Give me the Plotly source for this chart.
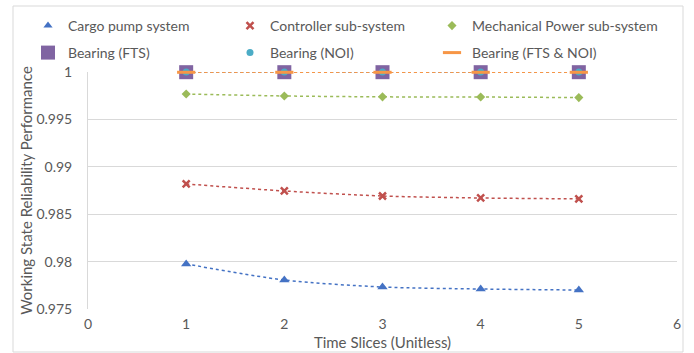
import plotly.graph_objects as go

time_slices = [1, 2, 3, 4, 5]
cargo_pump = [0.97975, 0.97806, 0.97732, 0.97711, 0.97700]
controller = [0.98819, 0.98745, 0.98692, 0.98671, 0.98662]
mechanical = [0.99768, 0.99747, 0.99738, 0.99736, 0.99730]
bearing_fts = [0.99998, 0.99998, 0.99998, 0.99998, 0.99998]
bearing_noi = [0.99999, 0.99999, 0.99999, 0.99999, 0.99999]
bearing_fts_noi = [0.99997, 0.99997, 0.99997, 0.99997, 0.99997]

y_ticks = [0.975, 0.98, 0.985, 0.99, 0.995, 1]
y_tick_labels = ["0.975", "0.98", "0.985", "0.99", "0.995", "1"]
x_ticks = [0, 1, 2, 3, 4, 5, 6]

FONT = "Lato, Calibri, Carlito, sans-serif"
TXT = "#595959"
W, H = 694, 353
L, R, T, B = 88, 17, 72, 44
PW, PH = W - L - R, H - T - B

fig = go.Figure()

# name, values, colour, symbol, size, marker line width, legend size
series = [
    ("Cargo pump system", cargo_pump, "#4472C4", "triangle-up", 9, 0, 8),
    ("Controller sub-system", controller, "#C0504D", "x-thin", 7, 2.5, 7),
    ("Mechanical Power sub-system", mechanical, "#9BBB59", "diamond", 7, 0, 7),
    ("Bearing (FTS)", bearing_fts, "#8064A2", "square", 14, 0, 14),
    ("Bearing (NOI)", bearing_noi, "#4BACC6", "circle", 7, 0, 7),
    ("Bearing (FTS & NOI)", bearing_fts_noi, "#F79646", "line-ew", 13, 3, 13),
]

for name, y, color, symbol, size, lw, lsize in series:
    fig.add_trace(go.Scatter(
        x=time_slices, y=y, name=name, mode="lines+markers", showlegend=False,
        line=dict(color=color, width=1.5, dash="dot", shape="spline", smoothing=0.8),
        marker=dict(symbol=symbol, size=size, color=color, line=dict(width=lw, color=color)),
        cliponaxis=False,
    ))

# one single-entry legend per slot (3 columns x 2 rows), marker-only like the original
leg_ids = ["legend", "legend2", "legend3", "legend4", "legend5", "legend6"]
col_start = [28, 230, 432]
row_y = [26, 53]
legends = {}
for i, (name, y, color, symbol, size, lw, lsize) in enumerate(series):
    lid = leg_ids[i]
    fig.add_trace(go.Scatter(
        x=[None], y=[None], name=name, mode="markers", showlegend=True, legend=lid,
        marker=dict(symbol=symbol, size=lsize, color=color, line=dict(width=lw, color=color)),
    ))
    legends[lid] = dict(orientation="h", xref="paper", yref="paper",
                        xanchor="left", yanchor="middle",
                        x=(col_start[i % 3] - L) / PW, y=(H - B - row_y[i // 3]) / PH,
                        itemwidth=30,
                        font=dict(size=14, color=TXT, family=FONT),
                        bgcolor="rgba(0,0,0,0)", borderwidth=0)

fig.update_layout(
    width=W, height=H,
    paper_bgcolor="white", plot_bgcolor="white",
    margin=dict(l=L, r=R, t=T, b=B, autoexpand=False),
    font=dict(family=FONT, color=TXT, size=13),
    shapes=[dict(type="rect", xref="paper", yref="paper",
                 x0=(13 - L) / PW, x1=(683 - L) / PW, y0=-(352 - (H - B)) / PH, y1=((H - B) - 6) / PH,
                 line=dict(color="#D9D9D9", width=1), layer="below")],
    **legends,
)
fig.update_xaxes(range=[0, 6], tickvals=x_ticks, showgrid=False, zeroline=False,
                 showline=False, ticks="", ticklabelstandoff=5,
                 title=dict(text="Time Slices (Unitless)", font=dict(size=15, color=TXT), standoff=6),
                 tickfont=dict(size=14, color=TXT))
fig.update_yaxes(range=[0.975, 1.0], tickvals=y_ticks, ticktext=y_tick_labels,
                 showgrid=True, gridcolor="#D9D9D9", gridwidth=1, zeroline=False,
                 showline=True, linecolor="#D9D9D9", linewidth=1, ticks="", ticklabelstandoff=12,
                 title=dict(text="Working State Reliability Performance", font=dict(size=15, color=TXT), standoff=0),
                 tickfont=dict(size=14, color=TXT))

fig.write_html("out.html", config={"displayModeBar": False},
               post_script="document.body.style.margin='0px';")
